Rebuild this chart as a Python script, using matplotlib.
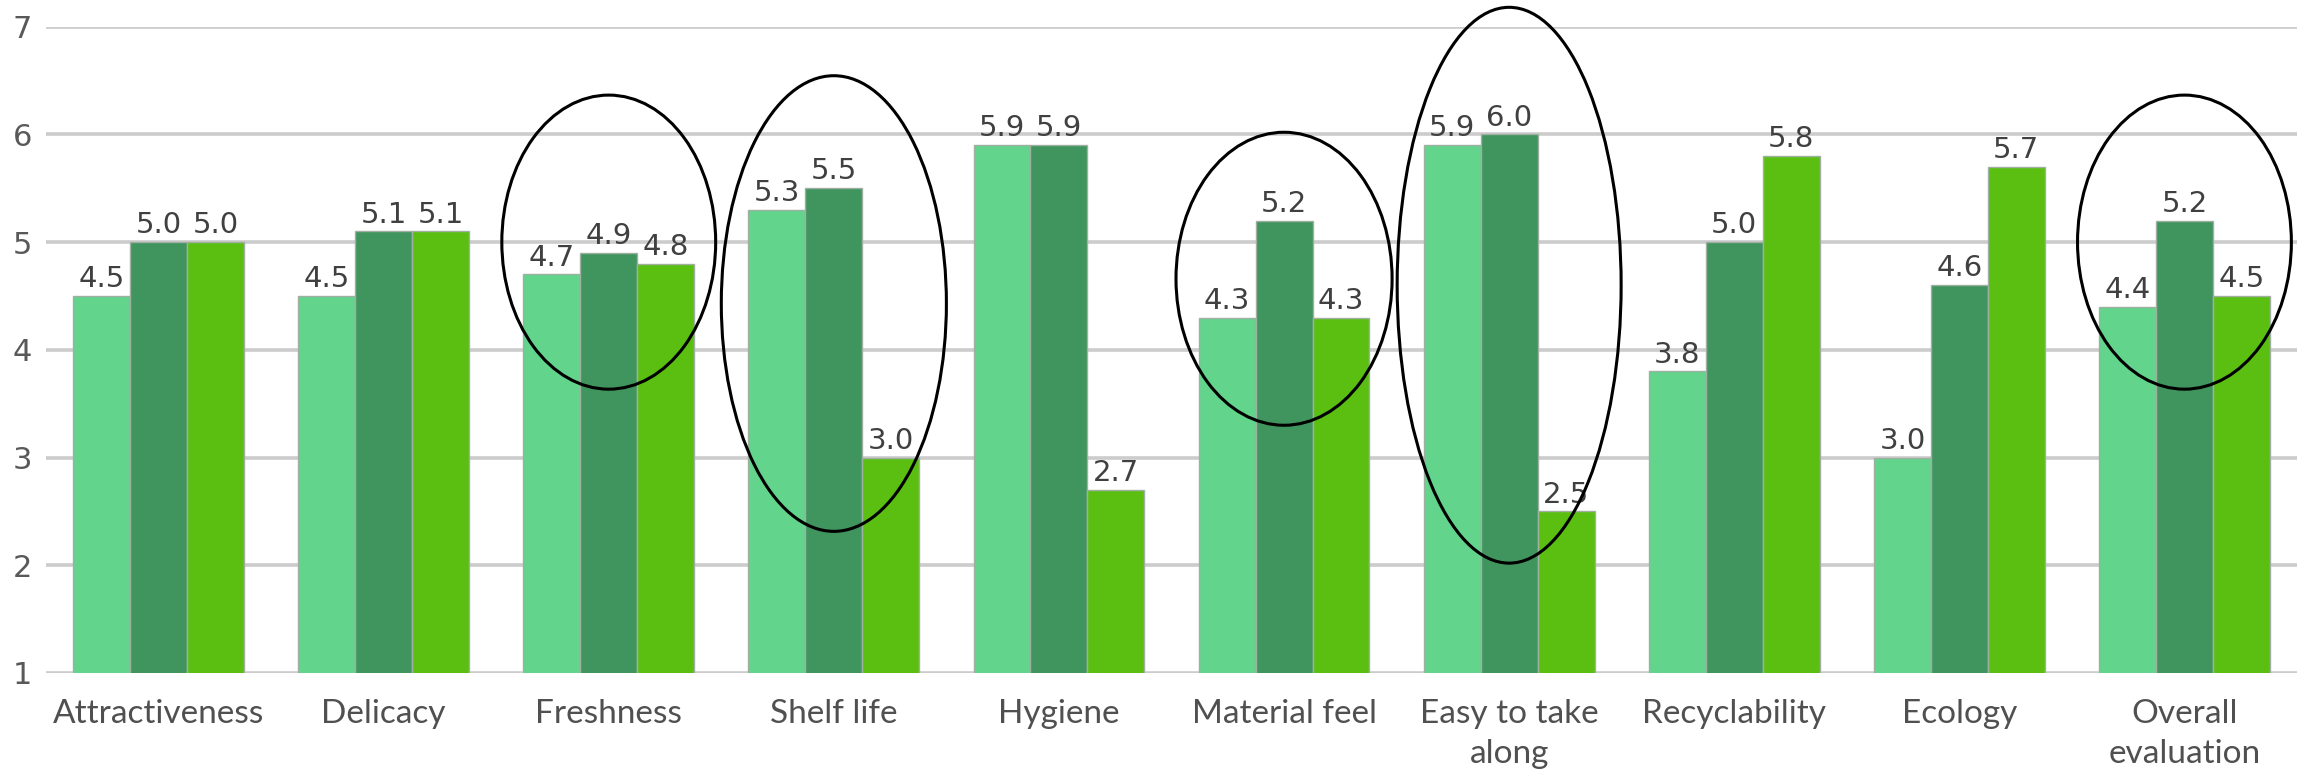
import matplotlib.pyplot as plt
from matplotlib.patches import Ellipse
import numpy as np

categories = ["Attractiveness", "Delicacy", "Freshness", "Shelf life", "Hygiene",
              "Material feel", "Easy to take\nalong", "Recyclability", "Ecology",
              "Overall\nevaluation"]
series_a = [4.5, 4.5, 4.7, 5.3, 5.9, 4.3, 5.9, 3.8, 3.0, 4.4]
series_b = [5.0, 5.1, 4.9, 5.5, 5.9, 5.2, 6.0, 5.0, 4.6, 5.2]
series_c = [5.0, 5.1, 4.8, 3.0, 2.7, 4.3, 2.5, 5.8, 5.7, 4.5]

# circled groups: (category index, y centre, width, height)
circled = [(2, 5.0, 0.95, 2.73),
           (3, 4.43, 1.0, 4.23),
           (5, 4.66, 0.96, 2.72),
           (6, 4.6, 0.995, 5.16),
           (9, 5.0, 0.95, 2.73)]

colors = ["#62d48c", "#40955f", "#5bbf12"]

fig = plt.figure(figsize=(23.1, 7.79), dpi=100)
ax = fig.add_axes([46 / 2310, 1 - 673 / 779, (2297 - 46) / 2310, (673 - 26.7) / 779])

x = np.arange(len(categories))
w = 0.253
for k, vals in enumerate([series_a, series_b, series_c]):
    bars = ax.bar(x + (k - 1) * w, vals, w, bottom=0, color=colors[k],
                  edgecolor="#9fb0a3", linewidth=1.0, zorder=3)
    for b, v in zip(bars, vals):
        ax.annotate(f"{v:.1f}", (b.get_x() + b.get_width() / 2, v),
                    xytext=(0, 2), textcoords="offset points",
                    ha="center", va="bottom", fontsize=21,
                    color="#404040", family="DejaVu Sans", zorder=4)

for i, yc, ew, eh in circled:
    ax.add_patch(Ellipse((i, yc), ew, eh, fill=False, edgecolor="black",
                         linewidth=2.2, zorder=5, clip_on=False))

ax.set_xlim(-0.5, len(categories) - 0.5)
ax.set_ylim(1, 7)
ax.set_yticks(range(1, 8))
ax.yaxis.grid(True, color="#cccccc", linewidth=2.6, zorder=0)
ax.set_axisbelow(True)
for s in ax.spines.values():
    s.set_visible(False)

ax.tick_params(axis="y", length=0, pad=10, labelsize=22, labelcolor="#595959")
ax.tick_params(axis="x", length=0, pad=19, labelcolor="#505050")
ax.set_xticks(x)
ax.set_xticklabels(categories, fontsize=24, family="Lato", linespacing=1.4)
for t in ax.get_yticklabels():
    t.set_family("DejaVu Sans")

fig.savefig("out.png", dpi=100, facecolor="white")
